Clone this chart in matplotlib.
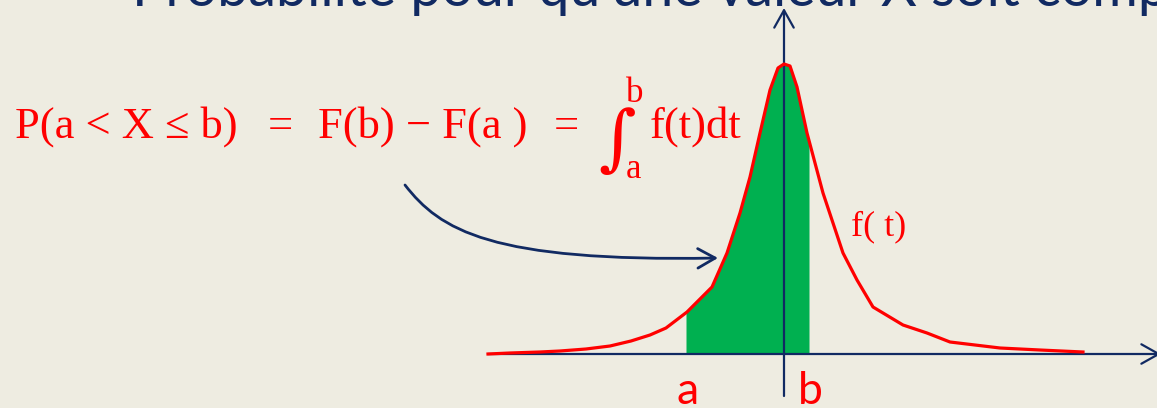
import numpy as np
import matplotlib
matplotlib.use("Agg")
import matplotlib.pyplot as plt
from matplotlib.patches import FancyArrowPatch
from matplotlib.path import Path

# density curve f(t), read point by point along the drawn shape
t_points = [-2.96, -2.74, -2.44, -2.24, -1.98, -1.74, -1.53, -1.34, -1.18, -0.97,
            -0.72, -0.57, -0.44, -0.34, -0.24, -0.14, -0.06, 0.0, 0.06, 0.13,
            0.23, 0.39, 0.59, 0.73, 0.89, 1.19, 1.43, 1.66, 1.91, 2.16, 2.56, 2.99]
f_points = [0.0, 0.01, 0.02, 0.03, 0.05, 0.08, 0.13, 0.19, 0.26, 0.42,
            0.67, 1.01, 1.41, 1.77, 2.21, 2.64, 2.86, 2.90, 2.88, 2.67,
            2.21, 1.61, 1.01, 0.74, 0.47, 0.29, 0.21, 0.12, 0.09, 0.06, 0.04, 0.02]

# integration bounds
a_bound = -0.98
b_bound = 0.25

title = "Probabilité pour qu'une valeur X soit comprise entre a et b"
formula_left = "P(a < X ≤ b)"
formula_mid = "F(b) − F(a )"
formula_right = "f(t)dt"
curve_label = "f( t)"

BG = "#EEECE1"
NAVY = "#112A62"
RED = "#FF0000"
GREEN = "#00B050"
W, H = 1157, 408


def px(x, y):
    # pixel position -> figure fraction
    return x / W, 1 - y / H


fig = plt.figure(figsize=(W / 100, H / 100), dpi=100)
fig.patch.set_facecolor(BG)
ax = fig.add_axes([0, 0, 1, 1])
ax.set_facecolor(BG)
ax.axis("off")
ax.set_xlim(-7.84, 3.73)
ax.set_ylim(-0.54, 3.54)

# shaded area between a and b
tt = np.linspace(a_bound, b_bound, 200)
ax.fill_between(tt, 0, np.interp(tt, t_points, f_points), color=GREEN, lw=0, zorder=1)

# axes with open arrow heads
head = "->,head_length=1.25,head_width=0.7"
ax.annotate("", xy=(3.77, 0), xytext=(-2.96, 0), annotation_clip=False,
            arrowprops=dict(arrowstyle=head, lw=1.6, color=NAVY, shrinkA=0, shrinkB=0))
ax.annotate("", xy=(0, 3.46), xytext=(0, -0.42), annotation_clip=False,
            arrowprops=dict(arrowstyle=head, lw=1.6, color=NAVY, shrinkA=0, shrinkB=0))

ax.plot(t_points, f_points, color=RED, lw=2.3, zorder=3, solid_joinstyle="round")

# curved pointer from the formula to the shaded area
verts = [(-3.79, 1.69), (-3.44, 1.24), (-2.94, 0.92), (-0.66, 0.96)]
codes = [Path.MOVETO, Path.CURVE4, Path.CURVE4, Path.CURVE4]
pointer = FancyArrowPatch(path=Path(verts, codes), arrowstyle=head, mutation_scale=10,
                          lw=2.0, color=NAVY, zorder=4)
ax.add_patch(pointer)

serif = "Liberation Serif"
fs = 32
fig.text(*px(15, 138), formula_left, color=RED, family=serif, fontsize=fs, va="baseline")
fig.text(*px(268, 138), "=", color=RED, family=serif, fontsize=fs, va="baseline")
fig.text(*px(318, 138), formula_mid, color=RED, family=serif, fontsize=fs, va="baseline")
fig.text(*px(554, 138), "=", color=RED, family=serif, fontsize=fs, va="baseline")
fig.text(*px(598, 162), "∫", color=RED, family="DejaVu Serif", fontsize=52, va="baseline")
fig.text(*px(626, 102), "b", color=RED, family=serif, fontsize=25, va="baseline")
fig.text(*px(626, 178), "a", color=RED, family=serif, fontsize=25, va="baseline")
fig.text(*px(650, 138), formula_right, color=RED, family=serif, fontsize=fs, va="baseline")
fig.text(*px(851, 235), curve_label, color=RED, family=serif, fontsize=26, va="baseline")

# bound labels under the axis
fig.text(*px(688, 404), "a", color=RED, family="Lato", fontsize=32, ha="center", va="baseline")
fig.text(*px(810, 404), "b", color=RED, family="Lato", fontsize=32, ha="center", va="baseline")

fig.text(*px(132, 6), title, color=NAVY, family="Lato", fontsize=40, va="baseline")

fig.savefig("out.png", dpi=100, facecolor=BG)
